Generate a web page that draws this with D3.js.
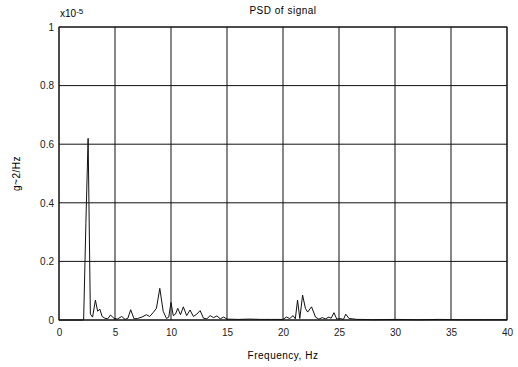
<!DOCTYPE html>
<meta charset="utf-8">
<style>
body { margin: 0; background: #fff; }
svg { font-family: 'Liberation Sans', Arial, sans-serif; }
.tick text { font-size: 10px; fill: #222; }
.grid line { stroke: #111; stroke-width: 1; }
</style>
<body>
<svg width="518" height="367"></svg>
<script src="https://d3js.org/d3.v7.min.js"></script>
<script>

// PSD values, units of 1e-5 g^2/Hz
var freq = [0, 2.2, 2.4, 2.6, 2.8, 3.0, 3.25, 3.45, 3.65, 3.85, 4.1, 4.35, 4.6, 4.9, 5.2, 5.6, 5.9, 6.15, 6.4, 6.7,
            7.0, 7.4, 7.8, 8.1, 8.4, 8.7, 9.0, 9.3, 9.6, 9.8, 10.0, 10.2, 10.4, 10.6, 10.85, 11.1, 11.4, 11.7,
            12.0, 12.3, 12.6, 12.9, 13.2, 13.5, 13.8, 14.1, 14.4, 14.7, 15.0, 16, 17, 18, 19, 20.0, 20.3, 20.6,
            20.9, 21.1, 21.3, 21.5, 21.75, 22.0, 22.2, 22.55, 22.9, 23.2, 23.5, 23.8, 24.1, 24.3, 24.55, 24.8,
            25.1, 25.4, 25.6, 25.9, 26.2, 26.6, 27, 28, 30, 32, 34, 36, 38, 40];
var psd  = [0, 0, 0.33, 0.62, 0.02, 0.01, 0.068, 0.03, 0.037, 0.012, 0.006, 0.004, 0.017, 0.006, 0.003, 0.012, 0.002, 0.006, 0.035, 0.004,
            0.005, 0.01, 0.018, 0.012, 0.025, 0.04, 0.108, 0.03, 0.005, 0.01, 0.06, 0.015, 0.02, 0.04, 0.018, 0.045, 0.015, 0.034,
            0.012, 0.02, 0.032, 0.006, 0.004, 0.015, 0.008, 0.014, 0.004, 0.01, 0.003, 0.002, 0.003, 0.002, 0.002, 0.002, 0.01, 0.005,
            0.015, 0.004, 0.068, 0.005, 0.085, 0.04, 0.027, 0.045, 0.01, 0.003, 0.008, 0.004, 0.01, 0.006, 0.025, 0.003,
            0.005, 0.002, 0.02, 0.005, 0.004, 0.002, 0.002, 0.001, 0.002, 0.001, 0.002, 0.001, 0.001, 0.001];

var xTicks = [0, 5, 10, 15, 20, 25, 30, 35, 40];
var yTicks = [0, 0.2, 0.4, 0.6, 0.8, 1];

var svg = d3.select("svg"),
    margin = {top: 27, right: 11, bottom: 47, left: 59},
    width = +svg.attr("width") - margin.left - margin.right,
    height = +svg.attr("height") - margin.top - margin.bottom;

var g = svg.append("g").attr("transform", "translate(" + margin.left + "," + margin.top + ")");

var x = d3.scaleLinear().domain([0, 40]).range([0, width]);
var y = d3.scaleLinear().domain([0, 1]).range([height, 0]);

// grid
g.append("g").attr("class", "grid")
  .selectAll("line.v").data(xTicks).enter().append("line")
    .attr("x1", function(d) { return x(d); }).attr("x2", function(d) { return x(d); })
    .attr("y1", 0).attr("y2", height);
g.append("g").attr("class", "grid")
  .selectAll("line.h").data(yTicks).enter().append("line")
    .attr("y1", function(d) { return y(d); }).attr("y2", function(d) { return y(d); })
    .attr("x1", 0).attr("x2", width);

var xAxis = g.append("g")
    .attr("transform", "translate(0," + height + ")")
    .call(d3.axisBottom(x).tickValues(xTicks).tickSize(0).tickPadding(9).tickFormat(d3.format("d")));
xAxis.select(".domain").remove();

var yAxis = g.append("g")
    .call(d3.axisLeft(y).tickValues(yTicks).tickSize(0).tickPadding(5).tickFormat(function(d) { return d; }));
yAxis.select(".domain").remove();

// data
g.append("path")
  .datum(d3.zip(freq, psd))
  .attr("fill", "none")
  .attr("stroke", "#111")
  .attr("stroke-width", 1)
  .attr("d", d3.line().x(function(d) { return x(d[0]); }).y(function(d) { return y(d[1]); }));

// frame
g.append("rect")
  .attr("width", width).attr("height", height)
  .attr("fill", "none").attr("stroke", "#111").attr("stroke-width", 1);

// labels
svg.append("text")
  .attr("x", margin.left + width / 2).attr("y", 14)
  .attr("text-anchor", "middle")
  .style("font-size", "10px").style("letter-spacing", "0.5px")
  .text("PSD of signal");

var exp = svg.append("text").attr("x", 60).attr("y", 17).style("font-size", "10px");
exp.append("tspan").text("x10");
exp.append("tspan").attr("dy", -3).style("font-size", "8px").text("-5");

svg.append("text")
  .attr("x", margin.left + width / 2).attr("y", 359)
  .attr("text-anchor", "middle")
  .style("font-size", "10px").style("letter-spacing", "0.5px")
  .text("Frequency, Hz");

svg.append("text")
  .attr("transform", "translate(20," + (margin.top + height / 2) + ") rotate(-90)")
  .attr("text-anchor", "middle")
  .style("font-size", "10px").style("letter-spacing", "0.5px")
  .text("g~2/Hz");

</script>
</body>
